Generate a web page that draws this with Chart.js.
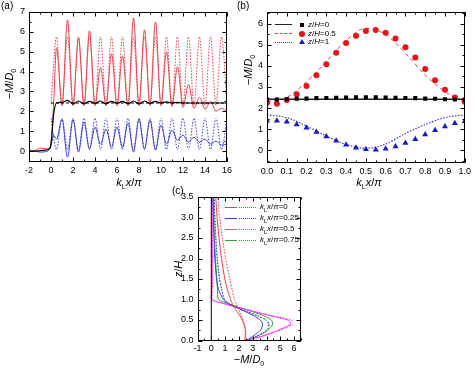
<!DOCTYPE html>
<html>
<head>
<meta charset="utf-8">
<script src="https://cdn.jsdelivr.net/npm/chart.js@4.4.1/dist/chart.umd.min.js"></script>
<style>
  body { margin: 0; background: #fff; font-family: "Liberation Sans", Arial, sans-serif; }
  #wrap { position: relative; width: 474px; height: 369px; overflow: hidden; }
  canvas { position: absolute; }
  .t { position: absolute; white-space: nowrap; color: #000; line-height: 1; }
  .c { transform: translate(-50%, -50%); }
  /* rotated titles: box pivots on its top-left corner, text runs bottom -> top */
  .rot { width: 60px; height: 12px; text-align: center; transform-origin: 0 0; transform: rotate(-90deg); }
  .ttl { font-size: 11px; }
  .ttl sub { font-size: 7px; font-style: normal; line-height: 0; }
  .leg { font-size: 8px; transform: translateY(-50%); }
  .leg sub { font-size: 5.5px; line-height: 0; }
  .ln { position: absolute; height: 0; }
</style>
</head>
<body>
<div id="wrap">
  <canvas id="chartA" width="235" height="190" style="left:0;top:0"></canvas>
  <canvas id="chartB" width="239" height="190" style="left:235px;top:0"></canvas>
  <canvas id="chartC" width="180" height="184" style="left:150px;top:185px"></canvas>

  <!-- panel (a) -->
  <div class="t" style="left:1px;top:1px;font-size:10px">(a)</div>
  <div class="t rot ttl" style="left:4px;top:114px">−<i>M</i>/<i>D</i><sub>0</sub></div>
  <div class="t c ttl" style="left:129px;top:182px"><i>k</i><sub>L</sub><i>x</i>/<i>π</i></div>

  <!-- panel (b) -->
  <div class="t" style="left:237px;top:1px;font-size:10px">(b)</div>
  <div class="t rot ttl" style="left:243px;top:100px">−<i>M</i>/<i>D</i><sub>0</sub></div>
  <div class="t c ttl" style="left:369px;top:182px"><i>k</i><sub>L</sub><i>x</i>/<i>π</i></div>
  <div class="ln" style="left:275px;top:24px;width:17px;border-top:1.5px solid #222"></div>
  <div class="ln" style="left:275px;top:33px;width:17px;border-top:1px dashed #e8414b"></div>
  <div class="ln" style="left:275px;top:41.5px;width:17px;border-top:1.5px dotted #4040d0"></div>
  <div style="position:absolute;left:300px;top:23px;width:4px;height:4px;background:#000"></div>
  <div style="position:absolute;left:299px;top:30.5px;width:6px;height:6px;border-radius:50%;background:#e3141e"></div>
  <div style="position:absolute;left:299px;top:39px;width:0;height:0;border-left:3px solid transparent;border-right:3px solid transparent;border-bottom:5px solid #1a1ac0"></div>
  <div class="t leg" style="left:308px;top:25px"><i>z</i>/<i>H</i>=0</div>
  <div class="t leg" style="left:308px;top:33.5px"><i>z</i>/<i>H</i>=0.5</div>
  <div class="t leg" style="left:308px;top:42px"><i>z</i>/<i>H</i>=1</div>

  <!-- panel (c) -->
  <div class="t" style="left:172px;top:186px;font-size:10px">(c)</div>
  <div class="t rot ttl" style="left:173px;top:299px"><i>z</i>/<i>H</i></div>
  <div class="t c ttl" style="left:249px;top:359px">−<i>M</i>/<i>D</i><sub>0</sub></div>
  <div class="ln" style="left:225px;top:207px;width:12px;border-top:1px solid #e8414b"></div>
  <div class="ln" style="left:239px;top:207px;width:17px;border-top:1px dotted #e8414b"></div>
  <div class="ln" style="left:225px;top:218px;width:12px;border-top:1px solid #4040d0"></div>
  <div class="ln" style="left:239px;top:218px;width:17px;border-top:1px dotted #4040d0"></div>
  <div class="ln" style="left:225px;top:229px;width:12px;border-top:1px solid #ff33ff"></div>
  <div class="ln" style="left:239px;top:229px;width:17px;border-top:1px dotted #ff33ff"></div>
  <div class="ln" style="left:225px;top:240px;width:12px;border-top:1px solid #3c9c3c"></div>
  <div class="ln" style="left:239px;top:240px;width:17px;border-top:1px dotted #3c9c3c"></div>
  <div class="t leg" style="left:260px;top:207px"><i>k</i><sub>L</sub><i>x</i>/<i>π</i>=0</div>
  <div class="t leg" style="left:260px;top:218px"><i>k</i><sub>L</sub><i>x</i>/<i>π</i>=0.25</div>
  <div class="t leg" style="left:260px;top:229px"><i>k</i><sub>L</sub><i>x</i>/<i>π</i>=0.5</div>
  <div class="t leg" style="left:260px;top:240px"><i>k</i><sub>L</sub><i>x</i>/<i>π</i>=0.75</div>
</div>

<script>
// ---------- panel (a): -M/D0 along k_L x / pi ----------
const aSolidX = [-2, -1.5, -1, -0.5, -0.2, 0, 0.25, 0.5, 1, 1.5, 2, 2.5, 3, 3.5, 4, 4.5, 5, 5.5, 6, 6.5, 7, 7.5, 8,
  8.5, 9, 9.5, 10, 10.5, 11, 11.5, 12, 12.5, 13, 13.5, 14, 14.5, 15, 15.5, 16];
const aRedSolid = [0, 0.02, 0.15, 0.12, 0.1, 0.4, 2.5, 5.2, 2.3, 6.6, 2.3, 5.7, 2.3, 6.05, 2.3, 4.2, 2.3, 4.9, 2.3,
  4.8, 2.3, 6.7, 2.3, 6.1, 2.3, 6.5, 2.3, 5.0, 2.25, 4.25, 2.2, 3.35, 2.15, 2.7, 2.1, 2.5, 2.0, 2.15, 2.0];
const aBlueSolid = [0, 0, -0.05, -0.03, 0.05, 0.3, 0.8, 0.6, 1.6, -0.3, 1.58, -0.05, 1.46, 0.1, 1.2, 0.35, 1.1, 0.2,
  1.2, 0.2, 1.4, -0.05, 1.6, 0.1, 1.55, 0.05, 1.3, 0.35, 1.05, 0.55, 0.8, 0.45, 0.7, 0.45, 0.6, 0.35, 0.5, 0.3, 0.35];
const aBlackSolid = [0, 0, 0.02, 0.05, 0.1, 0.35, 1.9, 2.42, 2.45, 2.55, 2.38, 2.52, 2.38, 2.5, 2.4, 2.52, 2.38, 2.5,
  2.4, 2.5, 2.38, 2.52, 2.38, 2.52, 2.4, 2.5, 2.42, 2.48, 2.42, 2.45, 2.42, 2.42, 2.42, 2.42, 2.42, 2.42, 2.42, 2.42, 2.42];

const aDotX = [0, 0.5, 1, 1.5, 2, 2.5, 3, 3.5, 4, 4.5, 5, 5.5, 6, 6.5, 7, 7.5, 8, 8.5, 9, 9.5, 10, 10.5, 11, 11.5,
  12, 12.5, 13, 13.5, 14, 14.5, 15, 15.5, 16];
const aRedDot = [2.35, 5.75, 2.3, 5.75, 2.3, 5.75, 2.3, 5.75, 2.3, 5.75, 2.3, 5.75, 2.3, 5.75, 2.3, 5.75, 2.3,
  5.75, 2.3, 5.75, 2.3, 5.75, 2.3, 5.75, 2.3, 5.75, 2.3, 5.75, 2.3, 5.75, 2.3, 5.75, 2.3];
const aBlueDot = [1.65, 0.08, 1.65, 0.08, 1.65, 0.08, 1.65, 0.08, 1.65, 0.08, 1.65, 0.08, 1.65, 0.08, 1.65, 0.08, 1.65,
  0.08, 1.65, 0.08, 1.65, 0.08, 1.65, 0.08, 1.65, 0.08, 1.65, 0.08, 1.65, 0.08, 1.65, 0.08, 1.65];
const aFlatX = [0, 16];
const aBlackFlat = [2.42, 2.42];

// ---------- panel (b): one period, lines + markers ----------
const bLineX = [0, 0.1, 0.2, 0.3, 0.4, 0.5, 0.6, 0.7, 0.8, 0.9, 1.0];
const bRedLine = [2.3, 2.5, 3.25, 4.2, 5.2, 5.78, 5.48, 4.6, 3.57, 2.78, 2.3];
const bBlueLine = [1.68, 1.55, 1.15, 0.68, 0.28, 0.1, 0.3, 0.8, 1.22, 1.55, 1.68];
const bFlatX = [0, 1];
const bBlackLine = [2.42, 2.42];

const bPtX = [0, 0.05, 0.1, 0.15, 0.2, 0.25, 0.3, 0.35, 0.4, 0.45, 0.5, 0.55, 0.6, 0.65, 0.7, 0.75, 0.8, 0.85, 0.9, 0.95, 1.0];
const bSquares = [2.4, 2.41, 2.42, 2.44, 2.45, 2.47, 2.48, 2.49, 2.5, 2.51, 2.51, 2.51, 2.5, 2.49, 2.48, 2.47, 2.45, 2.44, 2.42, 2.41, 2.4];
const bCircles = [2.25, 2.2, 2.38, 2.65, 3.05, 3.55, 4.08, 4.62, 5.08, 5.42, 5.65, 5.7, 5.57, 5.3, 4.88, 4.4, 3.85, 3.32, 2.87, 2.5, 2.3];
const bTriangles = [1.4, 1.4, 1.35, 1.22, 1.07, 0.87, 0.65, 0.45, 0.27, 0.12, 0.05, 0.03, 0.08, 0.18, 0.35, 0.52, 0.75, 0.95, 1.13, 1.28, 1.38];

// ---------- panel (c): profiles over z/H ----------
const cZ = [0, 0.1, 0.2, 0.3, 0.4, 0.5, 0.6, 0.7, 0.8, 0.9, 1.0, 1.25, 1.5, 2.0, 2.5, 3.0, 3.5];
const c0Solid = [2.42, 2.46, 2.47, 2.44, 2.37, 2.25, 2.08, 1.88, 1.68, 1.52, 1.40, 1.16, 0.98, 0.74, 0.56, 0.42, 0.32];
const c0Dot = [2.42, 2.48, 2.5, 2.47, 2.4, 2.3, 2.18, 2.05, 1.92, 1.8, 1.68, 1.5, 1.34, 1.04, 0.8, 0.6, 0.46];
const c25Solid = [2.55, 3.0, 3.4, 3.65, 3.72, 3.55, 3.1, 2.5, 1.85, 1.25, 0.87, 0.52, 0.38, 0.26, 0.19, 0.15, 0.12];
const c25Dot = [2.55, 3.25, 3.8, 4.1, 4.15, 3.95, 3.35, 2.6, 1.85, 1.25, 0.95, 0.75, 0.6, 0.43, 0.33, 0.26, 0.2];
const c50Solid = [2.6, 3.6, 4.5, 5.2, 5.75, 5.55, 4.3, 3.15, 2.0, 0.9, 0.03, 0.04, 0.05, 0.05, 0.05, 0.05, 0.05];
const c50Dot = [2.6, 3.65, 4.6, 5.35, 5.88, 5.8, 4.5, 3.25, 2.05, 0.95, 0.1, 0.1, 0.1, 0.09, 0.08, 0.08, 0.08];
const c75Solid = [2.7, 3.3, 3.85, 4.25, 4.45, 4.35, 3.8, 3.0, 2.1, 1.2, 0.52, 0.45, 0.4, 0.3, 0.23, 0.18, 0.15];
const c75Dot = [2.6, 3.3, 3.85, 4.15, 4.2, 4.0, 3.4, 2.65, 1.9, 1.3, 0.95, 0.75, 0.6, 0.43, 0.33, 0.26, 0.2];
const cZeroX = [0, 0];
const cZeroZ = [0, 3.5];

const RED = "#e8414b", BLUE = "#4040d0", MAGENTA = "#ff33ff", GREEN = "#3c9c3c";

// frame + inward ticks on all four sides (majors from the scale, minors in between)
const frameTicks = {
  id: "frameTicks",
  afterDraw(chart, args, opts) {
    const { ctx, chartArea: a, scales } = chart;
    const l = Math.round(a.left) + 0.5, r = Math.round(a.right) - 0.5;
    const t = Math.round(a.top) + 0.5, b = Math.round(a.bottom) - 0.5;
    ctx.save();
    ctx.strokeStyle = "#000";
    ctx.lineWidth = 1;
    ctx.strokeRect(l, t, r - l, b - t);
    ctx.beginPath();
    const sx = scales.x, sy = scales.y;
    const tickAt = (scale, v, len, horiz) => {
      const p = Math.round(scale.getPixelForValue(v)) + 0.5;
      if (horiz) {
        ctx.moveTo(p, b); ctx.lineTo(p, b - len);
        ctx.moveTo(p, t); ctx.lineTo(p, t + len);
      } else {
        ctx.moveTo(l, p); ctx.lineTo(l + len, p);
        ctx.moveTo(r, p); ctx.lineTo(r - len, p);
      }
    };
    for (let v = Math.ceil(sx.min / opts.xMinor) * opts.xMinor; v <= sx.max + 1e-9; v += opts.xMinor) tickAt(sx, v, 2, true);
    for (let v = Math.ceil(sy.min / opts.yMinor) * opts.yMinor; v <= sy.max + 1e-9; v += opts.yMinor) tickAt(sy, v, 2, false);
    sx.ticks.forEach(tk => tickAt(sx, tk.value, 4, true));
    sy.ticks.forEach(tk => tickAt(sy, tk.value, 4, false));
    ctx.stroke();
    ctx.restore();
  }
};

function line(xs, ys, color, dash, width, mode) {
  return {
    data: xs.map((x, i) => ({ x: x, y: ys[i] })),
    showLine: true,
    borderColor: color,
    backgroundColor: color,
    borderWidth: width || 1,
    borderDash: dash || [],
    pointRadius: 0,
    cubicInterpolationMode: mode || "monotone",
    fill: false
  };
}

function marks(xs, ys, color, style, radius) {
  return {
    data: xs.map((x, i) => ({ x: x, y: ys[i] })),
    showLine: false,
    pointStyle: style,
    pointRadius: radius,
    pointBackgroundColor: color,
    pointBorderColor: color,
    pointBorderWidth: 0
  };
}

function axes(o) {
  const tickFont = { family: "'Liberation Sans', Arial, sans-serif", size: 9 };
  return {
    x: {
      type: "linear", min: o.xMin, max: o.xMax,
      grid: { display: false, drawTicks: false }, border: { display: false },
      ticks: { stepSize: o.xStep, includeBounds: false, autoSkip: false, maxRotation: 0, padding: 3,
        color: "#000", font: tickFont, callback: o.xFmt || (v => String(v)) },
      afterFit: s => { s.height = o.xH; }
    },
    y: {
      type: "linear", min: o.yMin, max: o.yMax,
      grid: { display: false, drawTicks: false }, border: { display: false },
      ticks: { stepSize: o.yStep, includeBounds: false, autoSkip: false, padding: 4,
        color: "#000", font: tickFont, callback: o.yFmt || (v => String(v)) },
      afterFit: s => { s.width = o.yW; }
    }
  };
}

Chart.defaults.devicePixelRatio = 1;

// panel (a)
new Chart(document.getElementById("chartA"), {
  type: "scatter",
  data: {
    datasets: [
      line(aSolidX, aBlackSolid, "#000", [], 1.2),
      line(aFlatX, aBlackFlat, "#000", [3, 2], 1),
      line(aSolidX, aRedSolid, RED, [], 1),
      line(aSolidX, aBlueSolid, BLUE, [], 1),
      line(aDotX, aRedDot, RED, [1.5, 1.5], 1),
      line(aDotX, aBlueDot, BLUE, [1.5, 1.5], 1)
    ]
  },
  options: {
    responsive: false, animation: false,
    layout: { padding: { top: 12, right: 6, left: 0, bottom: 0 } },
    plugins: { legend: { display: false }, tooltip: { enabled: false }, frameTicks: { xMinor: 1, yMinor: 0.5 } },
    scales: axes({ xMin: -2, xMax: 16, xStep: 2, yMin: -0.55, yMax: 7, yStep: 1, xH: 28, yW: 29 })
  },
  plugins: [frameTicks]
});

// panel (b)
new Chart(document.getElementById("chartB"), {
  type: "scatter",
  data: {
    datasets: [
      marks(bPtX, bSquares, "#000", "rect", 2.9),
      marks(bPtX, bCircles, "#e3141e", "circle", 3),
      marks(bPtX, bTriangles, "#1a1ac0", "triangle", 3.5),
      line(bFlatX, bBlackLine, "#222", [], 1.5),
      line(bLineX, bRedLine, RED, [4, 3], 1),
      line(bLineX, bBlueLine, BLUE, [1.5, 1.5], 1.2)
    ]
  },
  options: {
    responsive: false, animation: false,
    layout: { padding: { top: 12, right: 6, left: 0, bottom: 0 } },
    plugins: { legend: { display: false }, tooltip: { enabled: false }, frameTicks: { xMinor: 0.05, yMinor: 0.5 } },
    scales: axes({ xMin: 0, xMax: 1, xStep: 0.1, yMin: -0.6, yMax: 6.55, yStep: 1, xH: 27, yW: 32,
      xFmt: v => v.toFixed(1) })
  },
  plugins: [frameTicks]
});

// panel (c)
new Chart(document.getElementById("chartC"), {
  type: "scatter",
  data: {
    datasets: [
      line(cZeroX, cZeroZ, "#000", [], 1, "default"),
      line(c0Solid, cZ, RED, [], 1, "default"),
      line(c0Dot, cZ, RED, [1.5, 1.5], 1, "default"),
      line(c25Solid, cZ, BLUE, [], 1, "default"),
      line(c25Dot, cZ, BLUE, [1.5, 1.5], 1, "default"),
      line(c50Solid, cZ, MAGENTA, [], 1, "default"),
      line(c50Dot, cZ, MAGENTA, [1.5, 1.5], 1, "default"),
      line(c75Solid, cZ, GREEN, [], 1, "default"),
      line(c75Dot, cZ, GREEN, [1.5, 1.5], 1, "default")
    ].map(d => Object.assign(d, { tension: 0.25 }))
  },
  options: {
    responsive: false, animation: false,
    layout: { padding: { top: 12, right: 29, left: 0, bottom: 0 } },
    plugins: { legend: { display: false }, tooltip: { enabled: false }, frameTicks: { xMinor: 0.5, yMinor: 0.25 } },
    scales: axes({ xMin: -1, xMax: 6.5, xStep: 1, yMin: 0, yMax: 3.5, yStep: 0.5, xH: 28.5, yW: 47.5,
      yFmt: v => v.toFixed(1) })
  },
  plugins: [frameTicks]
});
</script>
</body>
</html>
